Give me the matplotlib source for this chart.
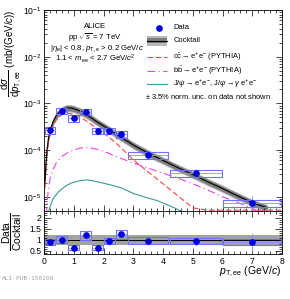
import numpy as np
import matplotlib
matplotlib.use('Agg')
import matplotlib.pyplot as plt
from matplotlib.patches import Rectangle
from matplotlib.ticker import MultipleLocator, LogLocator, NullFormatter

plt.rcParams['font.family'] = ['Liberation Sans', 'DejaVu Sans']
plt.rcParams['mathtext.fontset'] = 'custom'
plt.rcParams['mathtext.rm'] = 'Liberation Sans'
plt.rcParams['mathtext.it'] = 'Liberation Sans:italic'
plt.rcParams['mathtext.bf'] = 'Liberation Sans:bold'

# ---------------- data ----------------
pt = [0.2, 0.6, 1.0, 1.4, 1.8, 2.2, 2.6, 3.5, 5.1, 7.0]
bin_lo = [0.0, 0.4, 0.8, 1.2, 1.6, 2.0, 2.4, 2.8, 4.2, 6.0]
bin_hi = [0.4, 0.8, 1.2, 1.6, 2.0, 2.4, 2.8, 4.2, 6.0, 8.0]
data = [2.68e-4, 6.95e-4, 4.78e-4, 6.6e-4, 2.59e-4, 2.59e-4, 2.17e-4, 7.8e-5, 3.17e-5, 7.2e-6]
stat_rel = [0.10, 0.06, 0.09, 0.08, 0.11, 0.09, 0.12, 0.10, 0.22, 0.45]
sys_rel = [0.16, 0.16, 0.16, 0.16, 0.16, 0.16, 0.16, 0.16, 0.16, 0.16]
ratio = [0.895, 1.0, 0.65, 1.2, 0.65, 0.95, 1.26, 0.97, 0.95, 0.9]

ck_x = [0.03, 0.06, 0.1, 0.15, 0.2, 0.3, 0.4, 0.5, 0.6, 0.7, 0.8, 0.9, 1.0, 1.2, 1.4, 1.6,
        1.8, 2.0, 2.2, 2.4, 2.6, 2.8, 3.0, 3.5, 4.0, 4.5, 5.0, 5.5, 6.0, 6.5, 7.0, 7.5]
ck_y = [2e-5, 4.5e-5, 1.0e-4, 1.8e-4, 2.55e-4, 4.0e-4, 5.3e-4, 6.4e-4, 7.2e-4, 7.8e-4, 8.0e-4,
        7.95e-4, 7.7e-4, 6.9e-4, 5.85e-4, 4.85e-4, 3.95e-4, 3.3e-4, 2.75e-4, 2.25e-4, 1.85e-4,
        1.55e-4, 1.28e-4, 8.6e-5, 6.0e-5, 4.2e-5, 3.0e-5, 2.1e-5, 1.5e-5, 1.05e-5, 7.5e-6, 5.8e-6]
ck_unc = 0.13

cc_x = [0.03, 0.06, 0.1, 0.15, 0.2, 0.3, 0.4, 0.5, 0.6, 0.7, 0.8, 0.9, 1.0, 1.2, 1.4, 1.6, 1.8,
        2.0, 2.2, 2.4, 2.6, 2.8, 3.0, 3.5, 4.0, 4.5, 5.0, 5.5, 6.0, 7.0, 8.0]
cc_y = [1.5e-5, 3.5e-5, 8e-5, 1.5e-4, 2.1e-4, 3.3e-4, 4.3e-4, 5.1e-4, 5.7e-4, 6.0e-4, 6.1e-4,
        6.0e-4, 5.8e-4, 5.1e-4, 4.3e-4, 3.5e-4, 2.85e-4, 2.3e-4, 1.85e-4, 1.45e-4, 1.1e-4,
        8.3e-5, 6.2e-5, 3.4e-5, 1.9e-5, 1.05e-5, 5.8e-6, 3.2e-6, 1.8e-6, 6e-7, 2e-7]

bb_x = [0.08, 0.12, 0.2, 0.3, 0.43, 0.6, 0.8, 1.0, 1.2, 1.4, 1.6, 1.8, 2.0, 2.2, 2.4, 2.6, 2.8,
        3.0, 3.5, 4.0, 4.5, 5.0, 5.5, 6.0, 6.5, 7.0, 7.5]
bb_y = [4e-6, 1.0e-5, 2.4e-5, 3.8e-5, 5.6e-5, 7.3e-5, 8.8e-5, 1.0e-4, 1.1e-4, 1.14e-4, 1.1e-4,
        1.03e-4, 9.4e-5, 8.4e-5, 7.4e-5, 6.6e-5, 5.9e-5, 5.3e-5, 4.1e-5, 3.2e-5, 2.5e-5, 1.9e-5,
        1.4e-5, 1.0e-5, 7.6e-6, 5.6e-6, 4.2e-6]

jp_x = [0.14, 0.2, 0.3, 0.5, 0.7, 0.9, 1.2, 1.45, 1.7, 2.0, 2.3, 2.6, 3.0, 3.4, 3.8, 4.2, 4.6, 4.8]
jp_y = [4.5e-6, 6e-6, 9e-6, 1.3e-5, 1.65e-5, 1.95e-5, 2.2e-5, 2.3e-5, 2.15e-5, 1.95e-5, 1.75e-5,
        1.55e-5, 1.18e-5, 9.8e-6, 8.3e-6, 6.5e-6, 5e-6, 4.4e-6]

ratio_band_x = [0.0, 8.0]
ratio_band_lo = [0.79, 0.79]
ratio_band_hi = [1.22, 1.22]

YMIN, YMAX = 5e-6, 1e-1
RMIN, RMAX = 0.35, 2.31

C_DATA = '#0000dd'
C_BOX = '#7070ff'
C_RED = '#ff4040'
C_MAG = '#ee40ee'
C_TEAL = '#3a9a9a'

# ---------------- layout ----------------
W, H = 290, 299
fig = plt.figure(figsize=(W / 100, H / 100), dpi=100)


def fx(px):
    return px / W


def fy(py):
    return 1 - py / H


L, R = 44, 282
T, M, B = 10, 210.8, 254.3
ax = fig.add_axes([fx(L), fy(M), fx(R) - fx(L), fy(T) - fy(M)])
axr = fig.add_axes([fx(L), fy(B), fx(R) - fx(L), fy(M) - fy(B)])


def axc(px, py):
    return ((px - L) / (R - L), (M - py) / (M - T))


# ---------------- main panel ----------------
ckx = np.array(ck_x)
cky = np.array(ck_y)
ax.fill_between(ckx, cky * (1 - ck_unc * 1.4), cky * (1 + ck_unc * 1.4), color='#b8b8b8', lw=0, zorder=1)
ax.fill_between(ckx, cky * (1 - ck_unc), cky * (1 + ck_unc), color='#7d7d7d', lw=0, zorder=1.1)
ax.plot(cc_x, np.clip(cc_y, YMIN * 1.03, None), color=C_RED, lw=0.8, ls=(0, (5, 2.5)), zorder=2)
ax.plot(bb_x, bb_y, color=C_MAG, lw=0.8, ls=(0, (7, 3, 1, 3)), zorder=2)
ax.plot(jp_x, jp_y, color=C_TEAL, lw=0.8, zorder=2)
ax.plot(ckx, cky, color='black', lw=0.8, zorder=2.5)

pt_a = np.array(pt)
d = np.array(data)
lo = np.array(bin_lo)
hi = np.array(bin_hi)
srel = np.array(sys_rel)
strel = np.array(stat_rel)
for xl, xh, y, s in zip(lo, hi, d, srel):
    ax.add_patch(Rectangle((xl + 0.02, y * (1 - s)), (xh - xl) - 0.04, y * 2 * s,
                           fill=False, edgecolor=C_BOX, lw=0.8, zorder=3))
ax.errorbar(pt_a, d, yerr=d * strel, xerr=[pt_a - lo - 0.02, hi - pt_a - 0.02], fmt='o', ms=3.8,
            color=C_DATA, ecolor='#8f8fff', elinewidth=0.6, capsize=0, zorder=4)

ax.set_yscale('log')
ax.set_xlim(0, 8)
ax.set_ylim(YMIN, YMAX)
ax.xaxis.set_major_locator(MultipleLocator(1))
ax.xaxis.set_minor_locator(MultipleLocator(0.2))
ax.yaxis.set_major_locator(LogLocator(base=10))
ax.yaxis.set_minor_locator(LogLocator(base=10, subs=np.arange(2, 10)))
ax.yaxis.set_minor_formatter(NullFormatter())
ax.tick_params(axis='x', labelbottom=False)

# ---------------- ratio panel ----------------
r = np.array(ratio)
axr.fill_between(ratio_band_x, ratio_band_lo, ratio_band_hi, color='#a3a3a3', lw=0, zorder=1)
axr.axhline(1.0, color='black', lw=0.7, zorder=2)
for xl, xh, y, s in zip(lo, hi, r, srel):
    axr.add_patch(Rectangle((xl + 0.02, y * (1 - s)), (xh - xl) - 0.04, y * 2 * s,
                            fill=False, edgecolor=C_BOX, lw=0.8, zorder=3))
axr.errorbar(pt_a, r, yerr=r * strel, xerr=[pt_a - lo - 0.02, hi - pt_a - 0.02], fmt='o', ms=3.8,
             color=C_DATA, ecolor='#8f8fff', elinewidth=0.6, capsize=0, zorder=4)
axr.set_xlim(0, 8)
axr.set_ylim(RMIN, RMAX)
axr.xaxis.set_major_locator(MultipleLocator(1))
axr.xaxis.set_minor_locator(MultipleLocator(0.2))
axr.yaxis.set_major_locator(MultipleLocator(0.5))
axr.yaxis.set_minor_locator(MultipleLocator(0.1))
axr.yaxis.set_major_formatter(matplotlib.ticker.FuncFormatter(lambda v, p: ('%g' % v)))

for a in (ax, axr):
    a.tick_params(which='both', direction='in', top=True, right=True, labelsize=6.2, width=0.5, pad=2)
    a.tick_params(which='major', length=4)
    a.tick_params(which='minor', length=2)
    for sp in a.spines.values():
        sp.set_linewidth(0.6)
axr.tick_params(axis='y', which='major', length=5)
axr.tick_params(axis='y', which='minor', length=2.5)

# ---------------- labels ----------------
fig.text(fx(11.5), fy(9), r'$\dfrac{\mathrm{d}\sigma}{\mathrm{d}p_{\mathrm{T,ee}}}$ (mb/(GeV/$c$))',
         rotation=90, ha='center', va='top', fontsize=7.0)
fig.text(fx(12.5), fy(232), r'$\dfrac{\mathrm{Data}}{\mathrm{Cocktail}}$',
         rotation=90, ha='center', va='center', fontsize=7.4)
fig.text(fx(281), fy(272), r'$p_{\mathrm{T,ee}}$ (GeV/$c$)', ha='right', va='center', fontsize=7.5)
fig.text(fx(2), fy(278), 'ALI-PUB-150200', fontsize=4.4, color='#a0a0a0',
         family='DejaVu Sans Mono', va='center', ha='left')

# text block
tfs = 5.6
for txt, px, py in [('ALICE', 95, 26.2),
                    (r'pp $\sqrt{s}$ = 7 TeV', 95, 37.8),
                    (r'|$\eta_{\mathrm{e}}$| < 0.8, $p_{\mathrm{T,e}}$ > 0.2 GeV/$c$', 96.7, 48.0),
                    (r'1.1 < $m_{\mathrm{ee}}$ < 2.7 GeV/$c^{2}$', 95, 58.5)]:
    ax.text(*axc(px, py), txt, transform=ax.transAxes, ha='center', va='center', fontsize=tfs)

# legend (drawn manually)
lfs = 5.4
hx0, hx1, tx = 146.7, 166.7, 173.3
rows = [('Data', 27.7), ('Cocktail', 40.5),
        (r'$\mathrm{c\bar{c}}\rightarrow\mathrm{e^{+}e^{-}}$ (PYTHIA)', 56.7),
        (r'$\mathrm{b\bar{b}}\rightarrow\mathrm{e^{+}e^{-}}$ (PYTHIA)', 70.7),
        (r'J/$\psi\rightarrow\mathrm{e^{+}e^{-}}$, J/$\psi\rightarrow\gamma\ \mathrm{e^{+}e^{-}}$', 84)]
for lab, py in rows:
    ax.text(*axc(tx, py), lab, transform=ax.transAxes, ha='left', va='center', fontsize=lfs)

x0a, _ = axc(hx0, 0)
x1a, _ = axc(hx1, 0)
xm, ym = axc(159, 27.7)
ax.plot([xm], [ym], 'o', ms=3.8, color=C_DATA, transform=ax.transAxes, clip_on=False)
_, yc = axc(0, 40.5)
_, yb_o = axc(0, 45.5)
_, yt_o = axc(0, 35.5)
_, yb_i = axc(0, 43.3)
_, yt_i = axc(0, 37.7)
ax.add_patch(Rectangle((x0a, yb_o), x1a - x0a, yt_o - yb_o, transform=ax.transAxes,
                       color='#b8b8b8', lw=0))
ax.add_patch(Rectangle((x0a, yb_i), x1a - x0a, yt_i - yb_i, transform=ax.transAxes,
                       color='#7d7d7d', lw=0))
ax.plot([x0a, x1a], [yc, yc], color='black', lw=0.8, transform=ax.transAxes)
for py, col, ls in [(56.7, C_RED, (0, (5, 2.5))), (70.7, C_MAG, (0, (7, 3, 1, 3))), (84, C_TEAL, '-')]:
    _, yy = axc(0, py)
    ax.plot([x0a, x1a], [yy, yy], color=col, lw=0.8, ls=ls, transform=ax.transAxes)
ax.text(*axc(145, 96.7), r'$\pm$ 3.5% norm. unc. on data not shown', transform=ax.transAxes,
        ha='left', va='center', fontsize=lfs)

fig.savefig('out.png', dpi=100)
